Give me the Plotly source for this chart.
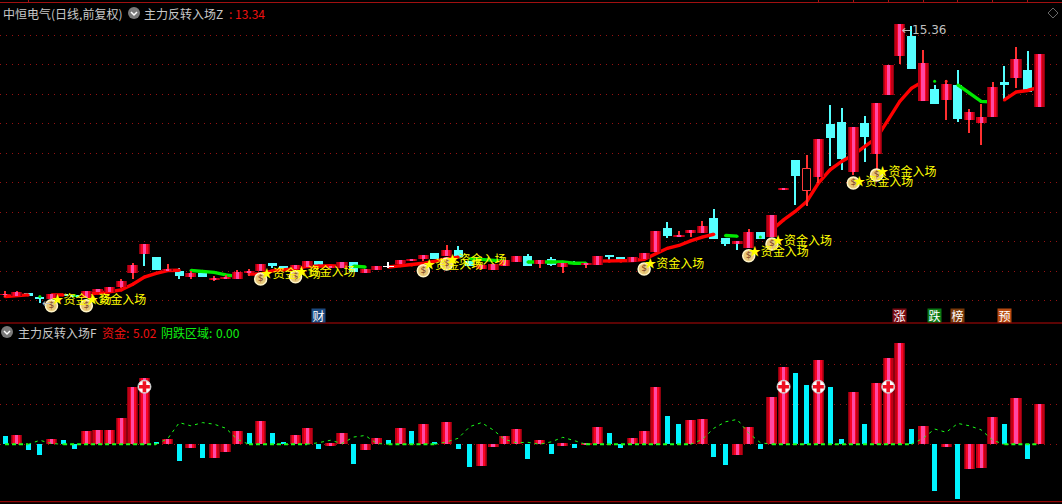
import plotly.graph_objects as go

W, H = 1062, 504

# ---------- candles (price) ----------
kinds = ["r","r","c","c","r","c","c","r","r","r",
         "r","r","r","c","r","c","r","c","r","r",
         "r","r","r","c","c","r","r","c","r","r",
         "c","r","r","w","r","r","r","c","r","c",
         "c","r","r","r","r","c","r","c","r","c",
         "r","r","c","c","r","r","r","c","r","r",
         "r","c","c","r","r","c","r","r","c","h",
         "r","c","c","r","c","r","r","r","c","r",
         "c","r","c","r","r","r","c","r","c","r"]
opens = [6.69,6.66,6.76,6.62,6.57,6.71,6.69,6.60,6.78,6.78,
         6.94,7.39,8.00,7.91,7.46,7.46,7.27,7.39,7.18,7.21,
         7.21,7.40,7.46,7.70,7.59,7.51,7.58,7.78,7.55,7.55,
         7.75,7.40,7.49,7.59,7.68,7.79,7.84,8.03,7.94,8.13,
         7.76,7.52,7.49,7.62,7.75,7.94,7.68,7.84,7.59,7.75,
         7.65,7.65,7.94,7.91,7.75,7.84,8.07,8.83,8.56,8.67,
         8.67,9.15,8.51,8.32,8.20,8.71,8.54,10.05,11.01,10.03,
         10.46,12.16,12.23,10.63,12.19,11.20,13.09,14.34,14.98,12.90,
         13.28,12.93,13.41,12.29,12.19,12.39,13.51,13.63,13.89,12.71]
closes = [6.71,6.79,6.66,6.57,6.72,6.64,6.62,6.82,6.88,6.95,
          7.14,7.65,8.32,7.49,7.49,7.30,7.39,7.27,7.20,7.24,
          7.43,7.43,7.68,7.62,7.55,7.65,7.78,7.65,7.62,7.75,
          7.43,7.52,7.62,7.61,7.81,7.84,7.97,7.84,8.13,7.91,
          7.62,7.65,7.68,7.81,7.94,7.62,7.81,7.65,7.71,7.68,
          7.71,7.94,7.91,7.81,7.91,8.03,8.74,8.58,8.61,8.77,
          8.90,8.48,8.32,8.42,8.71,8.48,9.25,10.08,10.50,10.71,
          11.68,11.71,11.04,12.07,11.75,12.83,14.05,15.36,13.92,14.11,
          12.80,13.44,12.32,12.55,12.39,13.35,13.41,14.24,13.19,14.40]
highs = [6.83,6.81,6.76,6.64,6.72,6.71,6.69,6.82,6.88,6.95,
         7.21,7.70,8.32,7.91,7.68,7.54,7.44,7.39,7.28,7.32,
         7.49,7.51,7.68,7.70,7.63,7.65,7.78,7.78,7.62,7.75,
         7.75,7.52,7.62,7.74,7.81,7.84,7.97,8.03,8.29,8.26,
         7.76,7.65,7.68,7.81,7.94,8.00,7.81,7.91,7.71,7.78,
         7.71,7.94,7.94,7.91,7.91,8.03,8.74,9.03,8.74,8.77,
         9.06,9.44,8.51,8.42,8.80,8.71,9.25,10.08,11.01,11.17,
         11.68,12.77,12.67,12.07,12.42,12.83,14.05,15.36,15.30,14.53,
         13.41,13.57,13.89,12.64,12.80,13.51,14.02,14.63,14.50,14.40]
lows = [6.62,6.64,6.66,6.42,6.55,6.64,6.62,6.60,6.78,6.78,
        6.90,7.20,7.60,7.49,7.44,7.20,7.20,7.27,7.14,7.19,
        7.20,7.28,7.46,7.55,7.49,7.51,7.58,7.65,7.55,7.55,
        7.43,7.40,7.49,7.56,7.68,7.78,7.78,7.84,7.92,7.91,
        7.62,7.52,7.49,7.62,7.75,7.62,7.55,7.62,7.39,7.68,
        7.55,7.65,7.81,7.81,7.75,7.84,8.07,8.51,8.56,8.55,
        8.67,8.48,8.26,8.13,8.20,8.48,8.54,10.05,9.57,9.55,
        10.27,10.80,10.69,10.53,10.95,10.69,13.09,14.08,13.92,12.90,
        12.80,12.29,12.23,11.87,11.49,12.39,12.96,13.31,13.19,12.71]
cyan_wick_days = [12, 63]

_ = None
line_up = [6.64,6.67,6.69,_,6.69,6.69,_,6.71,6.74,6.79,
           6.85,7.03,7.26,7.38,7.47,7.48,_,_,_,_,
           _,7.36,7.36,7.46,7.49,7.53,7.60,7.62,7.62,7.60,
           _,_,_,7.58,7.62,7.65,7.70,7.77,7.85,7.90,
           _,_,_,_,_,_,_,_,_,_,
           _,7.77,7.77,7.77,7.79,7.83,8.02,8.18,8.27,8.42,
           8.54,8.63,_,_,_,_,8.77,9.09,9.36,9.68,
           10.27,10.69,10.96,11.17,11.44,11.71,12.29,12.88,13.30,13.52,
           _,13.53,_,_,_,_,12.93,13.18,13.23,13.34]
line_down = [_,_,_,6.64,_,_,6.67,_,_,_,
             _,_,_,_,_,_,7.47,7.45,7.41,7.33,
             7.28,_,_,_,_,_,_,_,_,_,
             7.61,7.58,_,_,_,_,_,_,_,_,
             7.85,7.83,7.79,7.77,_,7.74,7.74,7.74,7.74,7.70,
             7.70,_,_,_,_,_,_,_,_,_,
             _,_,8.59,8.57,_,8.54,_,_,_,_,
             _,_,_,_,_,_,_,_,_,_,
             13.53,_,13.41,13.15,12.88,12.86,_,_,_,_]

signal_days = [4,7,22,25,36,38,55,64,66,73,75]
signal_text_price = [6.48,6.48,7.33,7.39,7.62,7.78,7.65,8.03,8.39,10.27,10.59]
signal_bag_price = [6.34,6.34,7.20,7.27,7.46,7.68,7.52,7.94,8.32,10.27,10.53]
signal_label = "★资金入场"

# ---------- lower indicator ----------
fund = [1.04,1.16,-0.70,-1.33,0.66,0.54,-0.58,1.66,1.78,1.78,
        3.28,7.14,8.26,0.29,0.66,-2.07,-0.46,-1.70,-1.70,-0.95,
        1.66,1.41,2.90,1.41,0.17,1.16,2.03,-0.58,-0.20,1.41,
        -2.45,-0.70,0.79,0.54,2.03,1.66,2.53,0.29,2.78,-0.58,
        -2.82,-2.70,-0.33,1.04,1.91,-1.83,0.54,-1.20,-0.20,-0.46,
        -0.15,2.16,1.41,-0.46,0.79,1.66,7.14,3.53,2.53,3.03,
        3.15,-1.58,-2.57,-1.33,2.16,-0.58,5.89,9.63,8.88,7.39,
        10.50,7.14,0.66,6.51,2.53,7.63,10.75,12.60,1.91,2.28,
        -5.81,-0.33,-6.80,-3.07,-2.95,3.40,2.53,5.77,-1.83,5.02]
fund_kinds = ["c","r","c","c","r","c","c","r","r","r",
              "r","r","r","c","r","c","r","c","r","r",
              "r","c","r","c","c","r","r","c","r","r",
              "c","r","r","c","r","c","r","c","r","c",
              "c","r","r","r","r","c","r","c","r","c",
              "r","r","c","c","r","r","r","c","c","r",
              "r","c","c","r","r","c","r","r","c","c",
              "r","c","c","r","c","r","r","r","c","r",
              "c","r","c","r","r","r","c","r","c","r"]
decline = [0,0,0,0.5,0.1,0,0,0,0,0,
           0,0,0,0,0.7,2.7,2.3,2.7,2.5,2.0,
           0.6,0,0,0,0,0,0,0.2,0.5,0.1,
           0.9,1.1,0.1,0,0,0,0,0,0.3,0.75,
           2.2,2.7,1.8,0.6,0.2,0.25,0,0.3,0.87,0.45,
           0,0,0,0,0,0,0,0,0,0,
           0.6,2.0,2.8,3.1,1.4,0.2,0,0,0,0,
           0,0,0,0,0,0,0,0,0,0.75,
           1.9,1.5,2.6,2.3,1.8,0.5,0,0,0,0]
plus_days = [12,67,70,76]
plus_values = [7.17,7.17,7.17,7.17]

# ---------- axes ----------
price_grid = [14.99,14.05,13.11,12.18,11.22,10.29,9.33,8.41,7.45,6.52]
fund_grid = [0,5,10]
top_ticks = [2,70,73,76,79,82,85,88]
days = list(range(len(opens)))

badges = [(27,"财","#1c4a80"),(77,"涨","#7a0c14"),(80,"跌","#0b7a15"),(82,"榜","#7a3a0a"),(86,"预","#b84a10")]
BADGE_PRICE = 6.03

GRAD = [(0.95,"#8c000e"),(0.8,"#c00016"),(0.55,"#f80424"),(0.27,"#ff48a4")]
RED_WICK, CYAN = "#ff3030", "#55ffff"

fig = go.Figure()

def bar_layers(x, y, base, yaxis):
    for w, col in GRAD:
        fig.add_bar(x=x, y=y, base=base, width=w, marker=dict(color=col, line_width=0),
                    yaxis=yaxis, hoverinfo="skip", showlegend=False)

# cyan candles (below the line)
ci = [i for i in days if kinds[i] == "c"]
fig.add_bar(x=ci, y=[highs[i]-lows[i] for i in ci], base=[lows[i] for i in ci], width=0.09,
            marker=dict(color=CYAN, line_width=0), yaxis="y", showlegend=False)
fig.add_bar(x=ci, y=[abs(closes[i]-opens[i]) for i in ci], base=[min(opens[i],closes[i]) for i in ci],
            width=0.78, marker=dict(color=CYAN, line_width=0), yaxis="y", showlegend=False)

# moving line
fig.add_scatter(x=days, y=line_up, mode="lines+markers", line=dict(color="#ff0000", width=3.4),
                marker=dict(color="#ff0000", size=3), connectgaps=False, yaxis="y", showlegend=False)
fig.add_scatter(x=days, y=line_down, mode="lines+markers", line=dict(color="#00e800", width=3.4),
                marker=dict(color="#00e800", size=3), connectgaps=False, yaxis="y", showlegend=False)

# other candles (above the line, overlay axis)
ri = [i for i in days if kinds[i] != "c"]
wick_colors = [CYAN if i in cyan_wick_days else ("#ffffff" if kinds[i] == "w" else RED_WICK) for i in ri]
fig.add_bar(x=ri, y=[highs[i]-lows[i] for i in ri], base=[lows[i] for i in ri], width=0.09,
            marker=dict(color=wick_colors, line_width=0), yaxis="y3", showlegend=False)
rr = [i for i in days if kinds[i] == "r"]
bar_layers(rr, [abs(closes[i]-opens[i]) for i in rr], [min(opens[i],closes[i]) for i in rr], "y3")
wi = [i for i in days if kinds[i] == "w"]
fig.add_bar(x=wi, y=[abs(closes[i]-opens[i]) for i in wi], base=[min(opens[i],closes[i]) for i in wi],
            width=0.95, marker=dict(color="#ffffff", line_width=0), yaxis="y3", showlegend=False)
hi = [i for i in days if kinds[i] == "h"]
fig.add_bar(x=hi, y=[abs(closes[i]-opens[i]) for i in hi], base=[min(opens[i],closes[i]) for i in hi],
            width=0.72, marker=dict(color="#000000", line=dict(color="#ff3c3c", width=1)),
            yaxis="y3", showlegend=False)

# signals
fig.add_scatter(x=signal_days, y=signal_bag_price, mode="markers+text", text=["$"]*len(signal_days),
                textposition="middle center", textfont=dict(color="#7a3b1e", size=9, family="DejaVu Sans"),
                marker=dict(color="#e8c878", size=12, line=dict(color="#fff5c8", width=1.5)),
                yaxis="y3", showlegend=False)
fig.add_scatter(x=signal_days, y=signal_text_price, mode="text", text=[signal_label]*len(signal_days),
                textposition="middle right", textfont=dict(color="#ffff00", size=12, family="Noto Sans CJK SC"),
                yaxis="y3", showlegend=False)

# lower panel
fc = [i for i in days if fund_kinds[i] == "c"]
fig.add_bar(x=fc, y=[fund[i] for i in fc], base=0, width=0.43, marker=dict(color="#00f4ff", line_width=0),
            xaxis="x2", yaxis="y2", showlegend=False)
fr = [i for i in days if fund_kinds[i] == "r"]
for w, col in GRAD:
    fig.add_bar(x=fr, y=[fund[i] for i in fr], base=0, width=w, marker=dict(color=col, line_width=0),
                xaxis="x2", yaxis="y2", showlegend=False)
# the flat stretches of the series read heavier than its humps in the reference
hump = [v if v != 0 or (i > 0 and decline[i-1] != 0) or (i < len(decline)-1 and decline[i+1] != 0) else None
        for i, v in enumerate(decline)]
flat = [v if v == 0 else None for v in decline]
fig.add_scatter(x=days, y=hump, mode="lines", line=dict(color="#18ff18", width=1, dash="3px,4px"),
                connectgaps=False, xaxis="x2", yaxis="y2", showlegend=False)
fig.add_scatter(x=days, y=flat, mode="lines", line=dict(color="#18ff18", width=2, dash="4px,3px"),
                connectgaps=False, xaxis="x2", yaxis="y2", showlegend=False)
fig.add_scatter(x=plus_days, y=plus_values, mode="markers",
                marker=dict(color="#ffffff", size=13, line=dict(color="#c8c8c8", width=1)),
                xaxis="x2", yaxis="y2", showlegend=False)
fig.add_scatter(x=plus_days, y=plus_values, mode="markers",
                marker=dict(color="#ee1122", size=9, symbol="cross", line_width=0),
                xaxis="x2", yaxis="y2", showlegend=False)

xr = [-0.43, 90.96]
pr = [5.79, 16.03]
fr_range = [-7.15, 15.07]
grid = dict(griddash="1px,5px", gridcolor="#961212", gridwidth=1, showgrid=True, zeroline=False,
            showticklabels=False, ticks="", showline=False)
fig.update_layout(
    width=W, height=H, margin=dict(l=0, r=0, t=0, b=0),
    paper_bgcolor="#000000", plot_bgcolor="#000000", barmode="overlay", bargap=0,
    showlegend=False, hovermode=False,
    xaxis=dict(domain=[0,1], range=xr, side="top", anchor="y", showgrid=False, zeroline=False,
               tickmode="array", tickvals=top_ticks, ticks="outside", ticklen=3, tickcolor="#a81414",
               tickwidth=1, showticklabels=False),
    xaxis2=dict(domain=[0,1], range=xr, anchor="y2", showgrid=False, zeroline=False, visible=False),
    yaxis=dict(domain=[1-323/H, 1-3/H], range=pr, tickmode="array", tickvals=price_grid, **grid),
    yaxis3=dict(overlaying="y", range=pr, visible=False),
    yaxis2=dict(domain=[1-501.7/H, 1-323.3/H], range=fr_range, tickmode="array", tickvals=fund_grid, **grid),
)

def px(x): return x / W
def py(y): return 1 - y / H
shapes = []
for y, c in [(2.5,"#a01010"),(323,"#b80808"),(501.7,"#b80808")]:
    shapes.append(dict(type="line", xref="paper", yref="paper", x0=0, x1=1, y0=py(y), y1=py(y),
                       line=dict(color=c, width=1)))
for cx, cy in [(134,13),(7,332)]:
    shapes.append(dict(type="circle", xref="paper", yref="paper", x0=px(cx-6), x1=px(cx+6), y0=py(cy-6), y1=py(cy+6),
                       fillcolor="#7a7a7a", line_width=0))
    shapes.append(dict(type="path", xref="paper", yref="paper",
                       path=f"M{px(cx-3)},{py(cy-1)} L{px(cx)},{py(cy+2)} L{px(cx+3)},{py(cy-1)}",
                       line=dict(color="#ffffff", width=1.5)))
shapes.append(dict(type="path", xref="paper", yref="paper",
                   path=f"M{px(1053)},{py(8)} L{px(1058)},{py(13)} L{px(1053)},{py(18)} L{px(1048)},{py(13)} Z",
                   line=dict(color="#666666", width=1)))
fig.update_layout(shapes=shapes)

def note(x, y, text, color="#c8c8c8", size=12):
    fig.add_annotation(xref="paper", yref="paper", x=px(x-2), y=py(y), text=text, showarrow=False,
                       xanchor="left", yanchor="middle", align="left",
                       font=dict(color=color, size=size, family="Noto Sans CJK SC"))

note(3, 13, "中恒电气(日线,前复权)")
note(144, 13, "主力反转入场Z")
note(229, 13, ": 13.34", "#ee1111")
note(18, 332, "主力反转入场F")
note(102, 332, "资金:", "#ee1111")
note(133, 332, "5.02", "#ee1111")
note(161, 332, "阴跌区域:", "#10f010")
note(216, 332, "0.00", "#10f010")

fig.add_annotation(x=77, y=15.36, xref="x", yref="y3", text="←15.36", showarrow=False, xanchor="left",
                   yanchor="top", yshift=3, font=dict(color="#c0c0c0", size=12, family="DejaVu Sans"))
fig.add_annotation(x=3, y=6.42, xref="x", yref="y3", text="←", showarrow=False, xanchor="left",
                   yanchor="middle", font=dict(color="#c0c0c0", size=11, family="DejaVu Sans"))
for d, t, bg in badges:
    fig.add_annotation(x=d, y=BADGE_PRICE, xref="x", yref="y3", text=t, showarrow=False, width=13, height=13,
                       bgcolor=bg, borderpad=0, font=dict(color="#ffffff", size=12, family="Noto Sans CJK SC"))

fig.write_html("out.html", config={"displayModeBar": False},
               post_script="document.body.style.margin='0';document.body.style.background='#000';")
